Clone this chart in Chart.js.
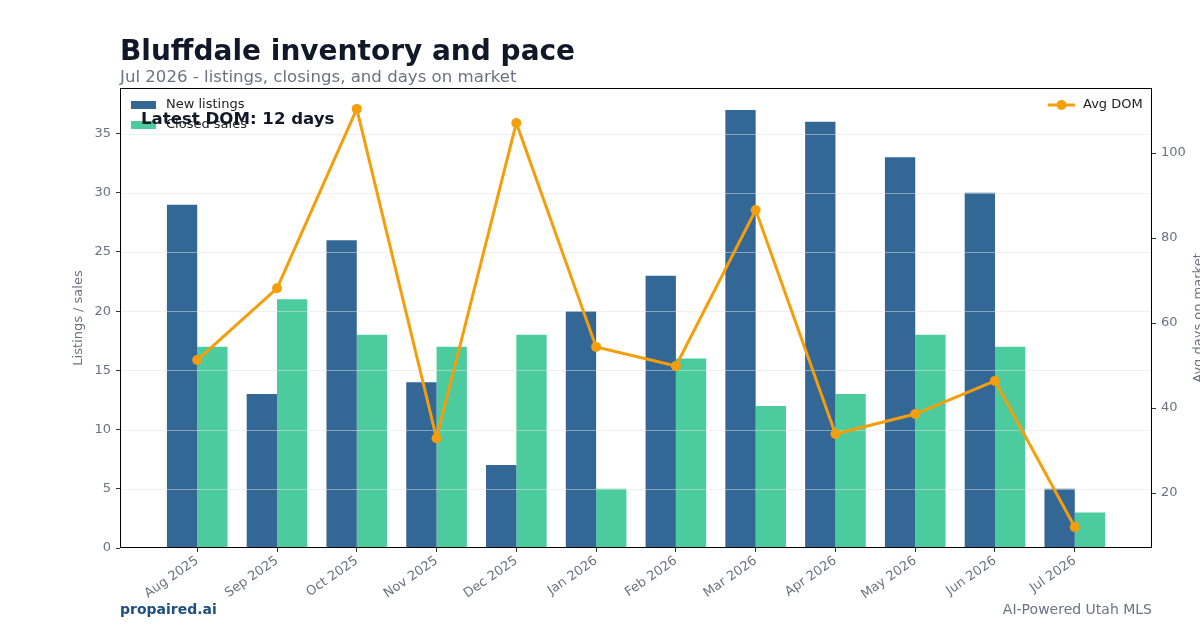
<!DOCTYPE html>
<html>
<head>
<meta charset="utf-8">
<script src="https://cdn.jsdelivr.net/npm/chart.js@4.4.1/dist/chart.umd.min.js"></script>
<style>
  html, body { margin: 0; padding: 0; background: #fff; }
  body { width: 1200px; height: 630px; position: relative; overflow: hidden; font-family: 'DejaVu Sans', sans-serif; }
  #wrap { position: absolute; left: 0; top: 0; width: 1200px; height: 630px; }
  .title { position: absolute; left: 120px; top: 34px; font-size: 28px; font-weight: bold; color: #111827; white-space: nowrap; }
  .sub { position: absolute; left: 120px; top: 67px; font-size: 16.6px; color: #6b7280; white-space: nowrap; }
  .brand { position: absolute; left: 120px; top: 601px; font-size: 14px; font-weight: bold; color: #1e4f7f; }
  .tag { position: absolute; right: 48px; top: 601px; font-size: 14px; color: #6b7280; }
</style>
</head>
<body>
<div id="wrap"><canvas id="chart" width="1200" height="630"></canvas></div>
<div class="title">Bluffdale inventory and pace</div>
<div class="sub">Jul 2026 - listings, closings, and days on market</div>
<div class="brand">propaired.ai</div>
<div class="tag">AI-Powered Utah MLS</div>
<script>
  const months = ['Aug 2025', 'Sep 2025', 'Oct 2025', 'Nov 2025', 'Dec 2025', 'Jan 2026',
    'Feb 2026', 'Mar 2026', 'Apr 2026', 'May 2026', 'Jun 2026', 'Jul 2026'];
  const newListings = [29, 13, 26, 14, 7, 20, 23, 37, 36, 33, 30, 5];
  const closedSales = [17, 21, 18, 17, 18, 5, 16, 12, 13, 18, 17, 3];
  const avgDom = [51.3, 68.2, 110.4, 32.9, 107.1, 54.4, 49.9, 86.6, 33.9, 38.6, 46.4, 12];
  const leftTicks = [0, 5, 10, 15, 20, 25, 30, 35];
  const rightTicks = [20, 40, 60, 80, 100];

  const blue = '#336795';
  const green = '#4ccb9f';
  const orange = '#f59e0b';
  const tickGray = '#6b7280';

  Chart.defaults.font.family = "'DejaVu Sans', sans-serif";

  // matplotlib-style 5% margins
  const barMax = Math.max(...newListings, ...closedSales);
  const domMin = Math.min(...avgDom), domMax = Math.max(...avgDom);
  const domPad = (domMax - domMin) * 0.05;
  const half = 0.38;
  const xPad = (months.length - 1 + 2 * half) * 0.05;

  const xy = (arr) => arr.map((v, i) => ({ x: i, y: v }));

  // grid goes over the bars but under the DOM line
  const gridPlugin = {
    id: 'midGrid',
    beforeDatasetDraw(chart, args) {
      if (args.index !== 0) return;
      const { ctx, chartArea: a, scales } = chart;
      ctx.save();
      ctx.strokeStyle = 'rgba(225,225,225,0.5)';
      ctx.lineWidth = 1;
      leftTicks.slice(1).forEach((v) => {
        const y = Math.round(scales.y.getPixelForValue(v)) + 0.5;
        ctx.beginPath();
        ctx.moveTo(a.left, y);
        ctx.lineTo(a.right, y);
        ctx.stroke();
      });
      ctx.restore();
    }
  };

  const framePlugin = {
    id: 'frame',
    afterDraw(chart) {
      const { ctx, chartArea: a } = chart;
      ctx.save();
      ctx.strokeStyle = '#000';
      ctx.lineWidth = 1;
      ctx.strokeRect(Math.round(a.left) + 0.5, Math.round(a.top) + 0.5,
        Math.round(a.right - a.left) - 1, Math.round(a.bottom - a.top) - 1);

      // left legend
      ctx.fillStyle = blue;
      ctx.fillRect(131, 101, 25, 8);
      ctx.fillStyle = green;
      ctx.fillRect(131, 121, 25, 8);
      ctx.fillStyle = '#222';
      ctx.font = "13px 'DejaVu Sans'";
      ctx.textBaseline = 'middle';
      ctx.textAlign = 'left';
      ctx.fillText('New listings', 166, 105);
      ctx.fillText('Closed sales', 166, 125);

      // right legend
      ctx.strokeStyle = orange;
      ctx.lineWidth = 3;
      ctx.beginPath();
      ctx.moveTo(1048, 105);
      ctx.lineTo(1075, 105);
      ctx.stroke();
      ctx.fillStyle = orange;
      ctx.beginPath();
      ctx.arc(1061.5, 105, 5, 0, Math.PI * 2);
      ctx.fill();
      ctx.fillStyle = '#222';
      ctx.fillText('Avg DOM', 1083, 105);

      // annotation
      ctx.fillStyle = '#111827';
      ctx.font = "bold 16.6px 'DejaVu Sans'";
      ctx.fillText('Latest DOM: ' + avgDom[avgDom.length - 1] + ' days', 141, 120);

      // right axis title
      ctx.save();
      ctx.translate(1199, (a.top + a.bottom) / 2);
      ctx.rotate(-Math.PI / 2);
      ctx.textAlign = 'center';
      ctx.fillStyle = tickGray;
      ctx.font = "13px 'DejaVu Sans'";
      ctx.fillText('Avg days on market', 0, 0);
      ctx.restore();
      ctx.restore();
    }
  };

  new Chart(document.getElementById('chart'), {
    data: {
      datasets: [
        {
          type: 'line', label: 'Avg DOM', data: xy(avgDom), yAxisID: 'y1', order: 0,
          borderColor: orange, backgroundColor: orange, borderWidth: 3,
          pointRadius: 5, pointBackgroundColor: orange, pointBorderWidth: 0, tension: 0
        },
        {
          type: 'bar', label: 'New listings', data: xy(newListings), yAxisID: 'y', order: 1,
          backgroundColor: blue, categoryPercentage: 2 * half, barPercentage: 1
        },
        {
          type: 'bar', label: 'Closed sales', data: xy(closedSales), yAxisID: 'y', order: 2,
          backgroundColor: green, categoryPercentage: 2 * half, barPercentage: 1
        }
      ]
    },
    options: {
      responsive: false,
      animation: false,
      layout: { padding: { left: 67, top: 88, right: 0, bottom: 0 } },
      plugins: { legend: { display: false }, tooltip: { enabled: false } },
      scales: {
        x: {
          type: 'linear',
          offset: false,
          min: -half - xPad, max: months.length - 1 + half + xPad,
          afterBuildTicks: (s) => { s.ticks = months.map((_, i) => ({ value: i })); },
          afterFit: (s) => { s.height = 82; },
          border: { display: false },
          grid: { offset: false, drawOnChartArea: false, tickLength: 4, tickColor: '#333' },
          ticks: {
            color: tickGray, font: { size: 13 }, padding: 1,
            minRotation: 35, maxRotation: 35, autoSkip: false,
            callback: (v) => months[v]
          }
        },
        y: {
          position: 'left',
          min: 0, max: barMax * 1.05,
          afterBuildTicks: (s) => { s.ticks = leftTicks.map((v) => ({ value: v })); },
          afterFit: (s) => { s.width = 53; },
          border: { display: false },
          grid: { drawOnChartArea: false, tickLength: 4, tickColor: '#333' },
          ticks: { color: tickGray, font: { size: 13 }, padding: 5 },
          title: { display: true, text: 'Listings / sales', color: tickGray, font: { size: 13 } }
        },
        y1: {
          position: 'right',
          min: domMin - domPad, max: domMax + domPad,
          afterBuildTicks: (s) => { s.ticks = rightTicks.map((v) => ({ value: v })); },
          afterFit: (s) => { s.width = 48; },
          border: { display: false },
          grid: { drawOnChartArea: false, tickLength: 4, tickColor: '#333' },
          ticks: { color: tickGray, font: { size: 13 }, padding: 5 }
        }
      }
    },
    plugins: [gridPlugin, framePlugin]
  });
</script>
</body>
</html>
